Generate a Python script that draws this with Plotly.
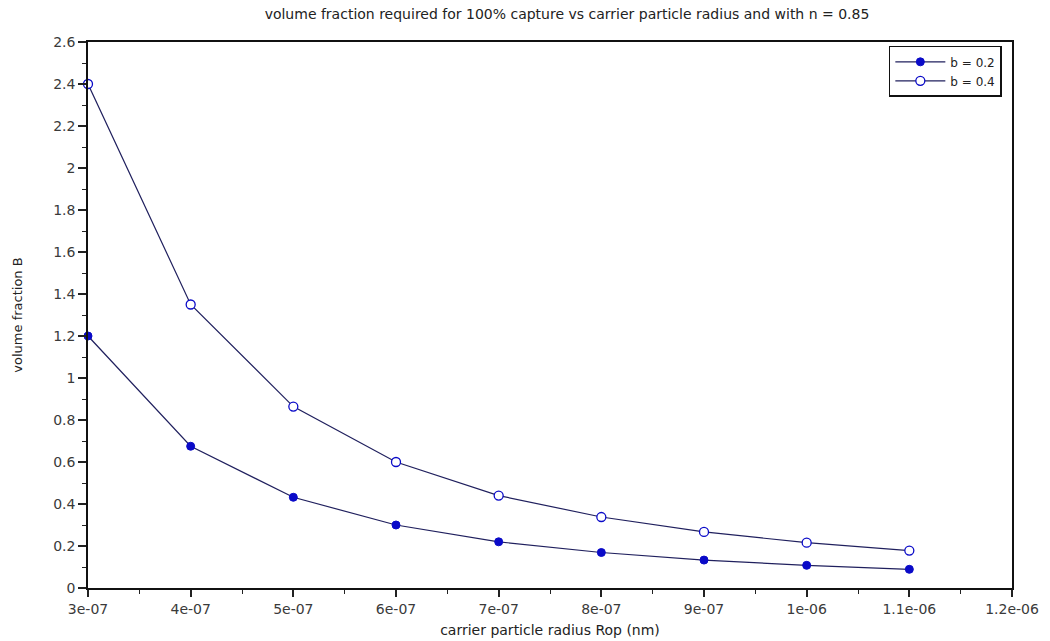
import plotly.graph_objects as go

radius = [3e-07, 4e-07, 5e-07, 6e-07, 7e-07, 8e-07, 9e-07, 1e-06, 1.1e-06]
frac_b02 = [1.20, 0.675, 0.432, 0.30, 0.22, 0.169, 0.133, 0.108, 0.089]
frac_b04 = [2.40, 1.35, 0.864, 0.60, 0.44, 0.338, 0.267, 0.216, 0.178]

x_tickvals = [3e-07, 4e-07, 5e-07, 6e-07, 7e-07, 8e-07, 9e-07, 1e-06, 1.1e-06, 1.2e-06]
x_ticktext = ["3e-07", "4e-07", "5e-07", "6e-07", "7e-07", "8e-07", "9e-07", "1e-06", "1.1e-06", "1.2e-06"]
y_tickvals = [0, 0.2, 0.4, 0.6, 0.8, 1.0, 1.2, 1.4, 1.6, 1.8, 2.0, 2.2, 2.4, 2.6]
y_ticktext = ["0", "0.2", "0.4", "0.6", "0.8", "1", "1.2", "1.4", "1.6", "1.8", "2", "2.2", "2.4", "2.6"]

line_col = "#20205e"
mark_col = "#0a0ac8"
font = "DejaVu Sans"
txt_col = "#3a3a3a"

fig = go.Figure()
fig.add_trace(go.Scatter(
    x=radius, y=frac_b02, mode="lines+markers", name="b = 0.2",
    line=dict(color=line_col, width=1.2),
    marker=dict(symbol="circle", size=8, color=mark_col, line=dict(color=mark_col, width=1)),
    cliponaxis=False,
))
fig.add_trace(go.Scatter(
    x=radius, y=frac_b04, mode="lines+markers", name="b = 0.4",
    line=dict(color=line_col, width=1.2),
    marker=dict(symbol="circle", size=9, color="white", line=dict(color=mark_col, width=1.3)),
    cliponaxis=False,
))

fig.update_layout(
    width=1050, height=641,
    margin=dict(l=88, r=38, t=42, b=53),
    paper_bgcolor="white", plot_bgcolor="white",
    font=dict(family=font, size=14, color=txt_col),
    title=dict(
        text="volume fraction required for 100% capture vs carrier particle radius and with n = 0.85",
        x=0.54, xanchor="center", y=0.978, yanchor="middle",
        font=dict(family=font, size=14, color="#222"),
    ),
    legend=dict(
        x=0.989, xanchor="right", y=0.993, yanchor="top",
        bgcolor="white", bordercolor="#111", borderwidth=1.5,
        font=dict(family=font, size=12, color="#222"),
        tracegroupgap=0, itemwidth=50,
    ),
    showlegend=True,
)

fig.update_xaxes(
    range=[3e-07, 1.2e-06],
    tickvals=x_tickvals, ticktext=x_ticktext,
    ticks="outside", ticklen=7, tickwidth=1.5, tickcolor="#222",
    minor=dict(ticks="outside", ticklen=4, tickwidth=1, tickcolor="#222", dtick=5e-08),
    showline=True, linecolor="#111", linewidth=1.5, mirror=True,
    showgrid=False, zeroline=False, automargin=False,
    ticklabeloverflow="allow",
    title=dict(text="carrier particle radius Rop (nm)", standoff=10,
               font=dict(family=font, size=14, color="#222")),
    tickfont=dict(family=font, size=14, color=txt_col),
)
fig.update_yaxes(
    range=[0, 2.6],
    tickvals=y_tickvals, ticktext=y_ticktext,
    ticks="outside", ticklen=8, tickwidth=1.5, tickcolor="#222",
    minor=dict(ticks="outside", ticklen=4, tickwidth=1, tickcolor="#222", dtick=0.1),
    showline=True, linecolor="#111", linewidth=1.5, mirror=True,
    showgrid=False, zeroline=False, automargin=False,
    title=dict(text="volume fraction B", standoff=28,
               font=dict(family=font, size=13, color="#222")),
    tickfont=dict(family=font, size=14, color=txt_col),
)

fig.write_html("out.html")
